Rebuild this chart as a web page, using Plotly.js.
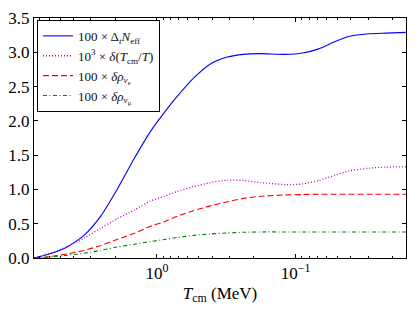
<!DOCTYPE html>
<html>
<head>
<meta charset="utf-8">
<script src="https://cdn.plot.ly/plotly-3.0.1.min.js"></script>
<style>html,body{margin:0;padding:0;background:#fff;}#chart{width:415px;height:312px;}</style>
</head>
<body>
<div id="chart"></div>
<script>
// Temperature T_cm (MeV)
var T = [7.71, 6.42, 5.53, 4.45, 3.36, 2.57, 1.94, 1.46, 1.12, 0.886, 0.713, 0.547, 0.412, 0.311, 0.238, 0.179, 0.118, 0.089, 0.0682, 0.0514, 0.0414, 0.0297, 0.0224, 0.016];
var dNeff = [0.0, 0.04, 0.08, 0.16, 0.33, 0.60, 1.00, 1.45, 1.84, 2.12, 2.36, 2.62, 2.83, 2.93, 2.97, 2.98, 2.97, 2.99, 3.05, 3.16, 3.23, 3.27, 3.28, 3.29];
var dTratio = [0.0, 0.05, 0.09, 0.17, 0.29, 0.43, 0.57, 0.70, 0.83, 0.90, 0.97, 1.04, 1.10, 1.135, 1.13, 1.10, 1.07, 1.08, 1.13, 1.21, 1.27, 1.31, 1.325, 1.33];
var dRhoNue = [0.0, 0.01, 0.03, 0.06, 0.11, 0.18, 0.27, 0.36, 0.46, 0.53, 0.61, 0.69, 0.76, 0.82, 0.87, 0.90, 0.92, 0.925, 0.93, 0.93, 0.93, 0.93, 0.93, 0.93];
var dRhoNumu = [0.0, 0.01, 0.02, 0.04, 0.07, 0.11, 0.16, 0.20, 0.24, 0.27, 0.30, 0.33, 0.35, 0.365, 0.375, 0.38, 0.38, 0.38, 0.38, 0.38, 0.38, 0.38, 0.38, 0.38];
var seriesNames = [
  '100 × Δ<sub><i>t</i></sub><i>N</i><sub>eff</sub>',
  '10<sup>3</sup> × <i>δ</i>(<i>T</i><sub>cm</sub>/<i>T</i>)',
  '100 × <i>δρ</i><sub><i>ν</i><sub>e</sub></sub>',
  '100 × <i>δρ</i><sub><i>ν</i><sub>μ</sub></sub>'
];
var xTickVals = [1, 0.1];
var xTickText = ['10<sup>0</sup>', '10<sup>−1</sup>'];
var xMinorVals = [7, 6, 5, 4, 3, 2, 0.9, 0.8, 0.7, 0.6, 0.5, 0.4, 0.3, 0.2, 0.09, 0.08, 0.07, 0.06, 0.05, 0.04, 0.03, 0.02];

var font = "'Liberation Serif', serif";
var traces = [
  {x: T, y: dNeff, name: seriesNames[0], mode: 'lines', line: {color: '#0000ff', width: 1.1, shape: 'spline', smoothing: 0.6}},
  {x: T, y: dTratio, name: seriesNames[1], mode: 'lines', line: {color: '#c000c0', width: 1.3, dash: '1px,2px', shape: 'spline', smoothing: 0.6}},
  {x: T, y: dRhoNue, name: seriesNames[2], mode: 'lines', line: {color: '#ff0000', width: 1.1, dash: '6px,3px', shape: 'spline', smoothing: 0.6}},
  {x: T, y: dRhoNumu, name: seriesNames[3], mode: 'lines', line: {color: '#008000', width: 1.1, dash: '4px,2.5px,1px,2.5px', shape: 'spline', smoothing: 0.6}}
];
var layout = {
  width: 415, height: 312,
  margin: {l: 34, r: 9, t: 18, b: 54},
  paper_bgcolor: '#fff', plot_bgcolor: '#fff',
  font: {family: font, color: '#000', size: 16},
  showlegend: true,
  legend: {x: 0.008, y: 0.992, xanchor: 'left', yanchor: 'top', bgcolor: '#fff', bordercolor: '#000', borderwidth: 1,
           font: {family: font, size: 13, color: '#111'}, tracegroupgap: 0},
  xaxis: {
    type: 'log', range: [Math.log10(7.71), Math.log10(0.016)],
    tickmode: 'array', tickvals: xTickVals, ticktext: xTickText,
    ticks: 'inside', ticklen: 4, tickcolor: '#000', tickwidth: 1,
    minor: {tickmode: 'array', tickvals: xMinorVals, ticks: 'inside', ticklen: 2, tickcolor: '#000', showgrid: false},
    showline: true, linecolor: '#000', linewidth: 1, mirror: 'allticks',
    showgrid: false, zeroline: false,
    tickfont: {family: font, size: 17},
    title: {text: '<i>T</i><sub>cm</sub> (MeV)', font: {family: font, size: 17}, standoff: 4}
  },
  yaxis: {
    range: [0, 3.5], dtick: 0.5, tick0: 0, tickformat: '.1f',
    ticks: 'inside', ticklen: 4, tickcolor: '#000', tickwidth: 1,
    showline: true, linecolor: '#000', linewidth: 1, mirror: 'allticks',
    showgrid: false, zeroline: false,
    tickfont: {family: font, size: 17}
  }
};
Plotly.newPlot('chart', traces, layout, {staticPlot: true, displayModeBar: false});
</script>
</body>
</html>
